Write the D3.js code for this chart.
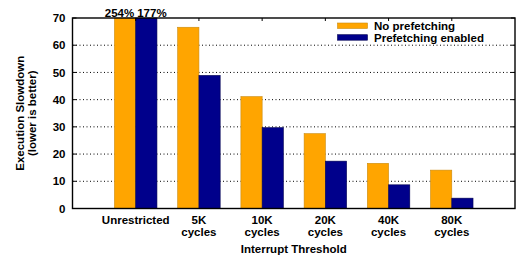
<!DOCTYPE html>
<html><head><meta charset="utf-8">
<script src="https://cdn.jsdelivr.net/npm/d3@7"></script>
<style>
body{margin:0;background:#fff;}
svg{display:block;font-family:"Liberation Sans",Arial,Helvetica,sans-serif;font-weight:bold;}
</style></head>
<body><svg id="c" width="519" height="258"></svg>
<script>
const categories = [["Unrestricted"],["5K","cycles"],["10K","cycles"],["20K","cycles"],["40K","cycles"],["80K","cycles"]];
const noPrefetch = [70, 66.6, 41.1, 27.5, 16.6, 14.1];
const prefetch   = [70, 48.9, 29.7, 17.4, 8.7, 3.8];
const overflowLabels = ["254%", "177%"];
const yTicks = [0,10,20,30,40,50,60,70];
const seriesNames = ["No prefetching","Prefetching enabled"];
const colors = ["#FFA500","#00008B"];
const strokes = ["#c98a10","#000050"];

const svg = d3.select("#c");
const L = 72.5, R = 515, T = 18, B = 208.5;
const x = d3.scaleLinear().domain([-1, 6]).range([L, R]);
const y = d3.scaleLinear().domain([0, 70]).range([B, T]);
const bw = (x(1) - x(0)) * 0.336;

// grid
svg.append("g").selectAll("line").data(yTicks.filter(d => d > 0 && d < 70)).join("line")
  .attr("x1", L).attr("x2", R).attr("y1", d => y(d)).attr("y2", d => y(d))
  .attr("stroke", "#000").attr("stroke-width", 1).attr("stroke-dasharray", "1,2.5");

// bars
const series = [noPrefetch, prefetch];
series.forEach((vals, si) => {
  svg.append("g").selectAll("rect").data(vals).join("rect")
    .attr("x", (d, i) => x(i) + (si === 0 ? -bw : 0))
    .attr("width", bw)
    .attr("y", d => y(d))
    .attr("height", d => y(0) - y(d))
    .attr("fill", colors[si]).attr("stroke", strokes[si]).attr("stroke-width", 0.6);
});

// frame
svg.append("rect").attr("x", L).attr("y", T).attr("width", R - L).attr("height", B - T)
  .attr("fill", "none").attr("stroke", "#000").attr("stroke-width", 1.4);

// y axis labels
const yAxis = d3.axisLeft(y).tickValues(yTicks).tickSize(0).tickPadding(7);
const ya = svg.append("g").attr("transform", `translate(${L},0)`).call(yAxis);
ya.select(".domain").remove();
ya.selectAll("text").attr("font-size", "11.5px").attr("font-weight", "bold")
  .attr("font-family", "'Liberation Sans',Arial,sans-serif").attr("fill", "#000");

// inner tick marks
svg.append("g").selectAll("line").data(yTicks).join("line")
  .attr("x1", L).attr("x2", L + 4).attr("y1", d => y(d)).attr("y2", d => y(d)).attr("stroke", "#000");
svg.append("g").selectAll("line").data(yTicks).join("line")
  .attr("x1", R).attr("x2", R - 4).attr("y1", d => y(d)).attr("y2", d => y(d)).attr("stroke", "#000");
svg.append("g").selectAll("line").data(d3.range(categories.length)).join("line")
  .attr("x1", d => x(d)).attr("x2", d => x(d)).attr("y1", T).attr("y2", T + 3).attr("stroke", "#000");

// x labels
const xl = svg.append("g").selectAll("text").data(categories).join("text")
  .attr("x", (d, i) => x(i)).attr("y", 224).attr("text-anchor", "middle")
  .attr("font-size", "11.5px");
xl.each(function(d, i) {
  const t = d3.select(this);
  d.forEach((s, k) => {
    t.append("tspan").attr("x", x(i)).attr("dy", k === 0 ? 0 : 12.2).text(s);
  });
});

// axis titles
svg.append("text").attr("x", (L + R) / 2).attr("y", 253).attr("text-anchor", "middle")
  .attr("font-size", "11.5px").text("Interrupt Threshold");
const yt = svg.append("text").attr("transform", `translate(24,${(T + B) / 2}) rotate(-90)`)
  .attr("text-anchor", "middle").attr("font-size", "11.5px");
yt.append("tspan").attr("x", 0).attr("dy", 0).text("Execution Slowdown");
yt.append("tspan").attr("x", 0).attr("dy", 12.2).text("(lower is better)");

// overflow labels
svg.append("text").attr("x", x(0) - 1.5).attr("y", 16.5).attr("text-anchor", "end")
  .attr("font-size", "11.5px").text(overflowLabels[0]);
svg.append("text").attr("x", x(0) + 1.5).attr("y", 16.5).attr("text-anchor", "start")
  .attr("font-size", "11.5px").text(overflowLabels[1]);

// legend
const lg = svg.append("g");
seriesNames.forEach((n, i) => {
  const yy = 26 + i * 11.7;
  lg.append("rect").attr("x", 337.5).attr("y", yy - 3).attr("width", 30).attr("height", 5.5)
    .attr("fill", colors[i]).attr("stroke", strokes[i]).attr("stroke-width", 0.6);
  lg.append("text").attr("x", 374).attr("y", yy + 4).attr("font-size", "11.5px").text(n);
});
</script></body></html>
